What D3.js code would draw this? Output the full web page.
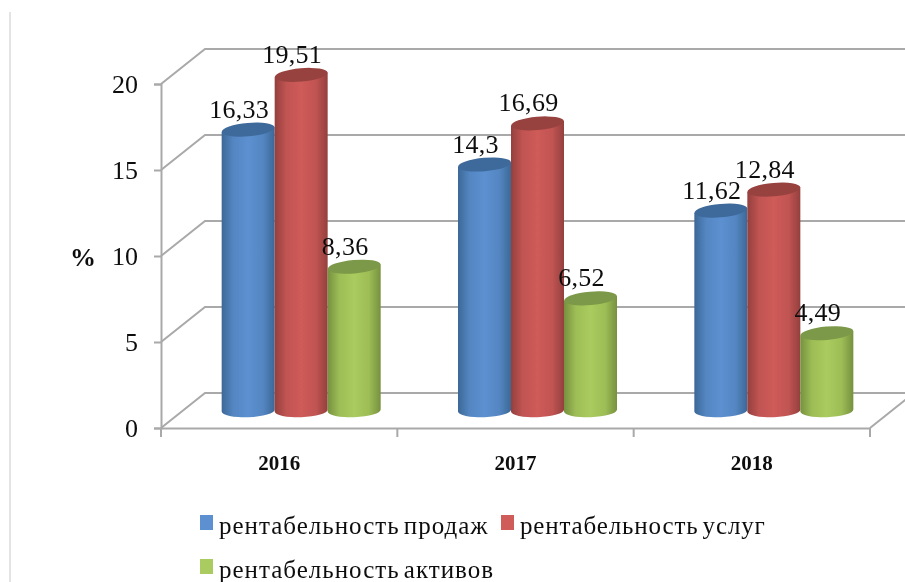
<!DOCTYPE html>
<html>
<head>
<meta charset="utf-8">
<script src="https://cdnjs.cloudflare.com/ajax/libs/d3/7.8.5/d3.min.js"></script>
<style>
  html, body { margin: 0; padding: 0; background: #fff; }
  svg { display: block; }
  text { font-family: "Liberation Serif", serif; fill: #111; }
</style>
</head>
<body>
<div id="chart"></div>
<script>
const years = ['2016', '2017', '2018']
const seriesNames = ['рентабельность продаж', 'рентабельность услуг', 'рентабельность активов']
const sales = [16.33, 14.3, 11.62]
const services = [19.51, 16.69, 12.84]
const assets = [8.36, 6.52, 4.49]
const valueLabels = [['16,33', '14,3', '11,62'], ['19,51', '16,69', '12,84'], ['8,36', '6,52', '4,49']]
const yTicks = [0, 5, 10, 15, 20]
const sideColors = [['#3c6897', '#5c90d0'], ['#94403e', '#cf5b58'], ['#76913f', '#aacb5e']]
const topColors = ['#3e6a9b', '#984341', '#7c9848']

const width = 905
const height = 582
const depth = { x: 44, y: -35 } // shift from the front plane to the back wall
const barPlane = { x: 22, y: -17.5 }
const radius = 26.5
const ry = 6.7

const svg = d3.select('#chart').append('svg')
  .attr('width', width)
  .attr('height', height)

const defs = svg.append('defs')
sideColors.forEach((c, i) => {
  const grad = defs.append('linearGradient').attr('id', `side${i}`)
  grad.append('stop').attr('offset', '0%').attr('stop-color', c[0])
  grad.append('stop').attr('offset', '22%').attr('stop-color', d3.interpolateRgb(c[0], c[1])(0.75))
  grad.append('stop').attr('offset', '50%').attr('stop-color', c[1])
  grad.append('stop').attr('offset', '78%').attr('stop-color', d3.interpolateRgb(c[0], c[1])(0.75))
  grad.append('stop').attr('offset', '100%').attr('stop-color', c[0])
})
defs.append('filter').attr('id', 'soft')
  .attr('x', '-5%').attr('y', '-5%').attr('width', '110%').attr('height', '110%')
  .append('feGaussianBlur').attr('stdDeviation', 0.55)

const root = svg.append('g').attr('filter', 'url(#soft)')

// page edge on the left
root.append('line')
  .attr('x1', 10).attr('x2', 10).attr('y1', 12).attr('y2', height)
  .attr('stroke', '#c8c8c8').attr('stroke-width', 1)

const xScale = d3.scaleBand().domain(years).range([161, 870])
const yScale = d3.scaleLinear().domain([0, 20]).range([428, 84])
const seriesScale = d3.scaleBand().domain([0, 1, 2]).range([-79.5, 79.5])

// back wall gridlines and side wall
const grid = root.append('g').attr('stroke', '#a9a9a9').attr('stroke-width', 2).attr('fill', 'none')
yTicks.forEach(t => {
  grid.append('path')
    .attr('d', `M161,${yScale(t)}L${161 + depth.x},${yScale(t) + depth.y}L${870 + depth.x},${yScale(t) + depth.y}`)
})
grid.append('line')
  .attr('x1', 870).attr('y1', yScale(0))
  .attr('x2', 870 + depth.x).attr('y2', yScale(0) + depth.y)

// y axis
const yAxis = root.append('g')
  .attr('transform', 'translate(161,0)')
  .call(d3.axisLeft(yScale).tickValues(yTicks).tickSize(7).tickPadding(16))
yAxis.selectAll('line, path').attr('stroke', '#a9a9a9').attr('stroke-width', 2)
yAxis.selectAll('text').style('font-family', '"Liberation Serif", serif').style('font-size', '26px').attr('fill', '#111')

// x axis
const xAxis = root.append('g')
  .attr('transform', `translate(0,${yScale(0)})`)
  .call(d3.axisBottom(xScale).tickSize(0).tickPadding(27))
xAxis.select('.domain').attr('stroke', '#a9a9a9').attr('stroke-width', 2)
xAxis.selectAll('text')
  .style('font-family', '"Liberation Serif", serif')
  .style('font-size', '21px').style('font-weight', 'bold').attr('fill', '#111')
years.concat('end').forEach((y, i) => {
  const x = i < years.length ? xScale(y) : xScale.range()[1]
  root.append('line')
    .attr('x1', x).attr('x2', x)
    .attr('y1', yScale(0)).attr('y2', yScale(0) + 9)
    .attr('stroke', '#a9a9a9').attr('stroke-width', 2)
})

root.append('text')
  .attr('x', 83).attr('y', 266)
  .attr('text-anchor', 'middle')
  .attr('font-size', 26).attr('font-weight', 'bold')
  .text('%')

// cylinders
const valuesBySeries = [sales, services, assets]
const tiltPath = (cx, y, tilt) => {
  const dy = radius * Math.sin(tilt * Math.PI / 180)
  return { left: [cx - radius, y - dy], right: [cx + radius, y + dy] }
}

valuesBySeries.forEach((values, s) => {
  const g = root.append('g').attr('class', 'series')
  const bars = g.selectAll('.bar')
    .data(values)
    .enter().append('g')
    .attr('class', 'bar')

  bars.append('path')
    .attr('fill', `url(#side${s})`)
    .attr('d', (d, i) => {
      const cx = xScale(years[i]) + xScale.bandwidth() / 2 + barPlane.x + seriesScale(s) + seriesScale.bandwidth() / 2
      const top = tiltPath(cx, yScale(d) + barPlane.y, -5)
      const base = tiltPath(cx, yScale(0) + barPlane.y, -2)
      return `M${top.left}L${base.left}A${radius},${ry} -2 0 0 ${base.right}L${top.right}Z`
    })

  bars.append('ellipse')
    .attr('rx', radius)
    .attr('ry', ry)
    .attr('fill', topColors[s])
    .attr('transform', (d, i) => {
      const cx = xScale(years[i]) + xScale.bandwidth() / 2 + barPlane.x + seriesScale(s) + seriesScale.bandwidth() / 2
      return `translate(${cx},${yScale(d) + barPlane.y}) rotate(-5)`
    })
})

// value labels sit above the bars, on top of everything
valuesBySeries.forEach((values, s) => {
  root.append('g').selectAll('text')
    .data(values)
    .enter().append('text')
    .attr('x', (d, i) => xScale(years[i]) + xScale.bandwidth() / 2 + barPlane.x + seriesScale(s) + seriesScale.bandwidth() / 2 - 9)
    .attr('y', d => yScale(d) + barPlane.y - 12)
    .attr('text-anchor', 'middle')
    .attr('font-size', 26)
    .attr('letter-spacing', 0.3)
    .text((d, i) => valueLabels[s][i])
})

// legend
const legendX = [200, 501, 200]
const legendY = [534, 534, 578]
const legendSpacing = [1, 0.85, 1]
seriesNames.forEach((name, i) => {
  root.append('rect')
    .attr('x', legendX[i]).attr('y', legendY[i] - 19)
    .attr('width', 13).attr('height', 15)
    .attr('fill', sideColors[i][1])
  root.append('text')
    .attr('x', legendX[i] + 19).attr('y', legendY[i])
    .attr('font-size', 25)
    .attr('letter-spacing', legendSpacing[i])
    .attr('word-spacing', -3)
    .text(name)
})
</script>
</body>
</html>
